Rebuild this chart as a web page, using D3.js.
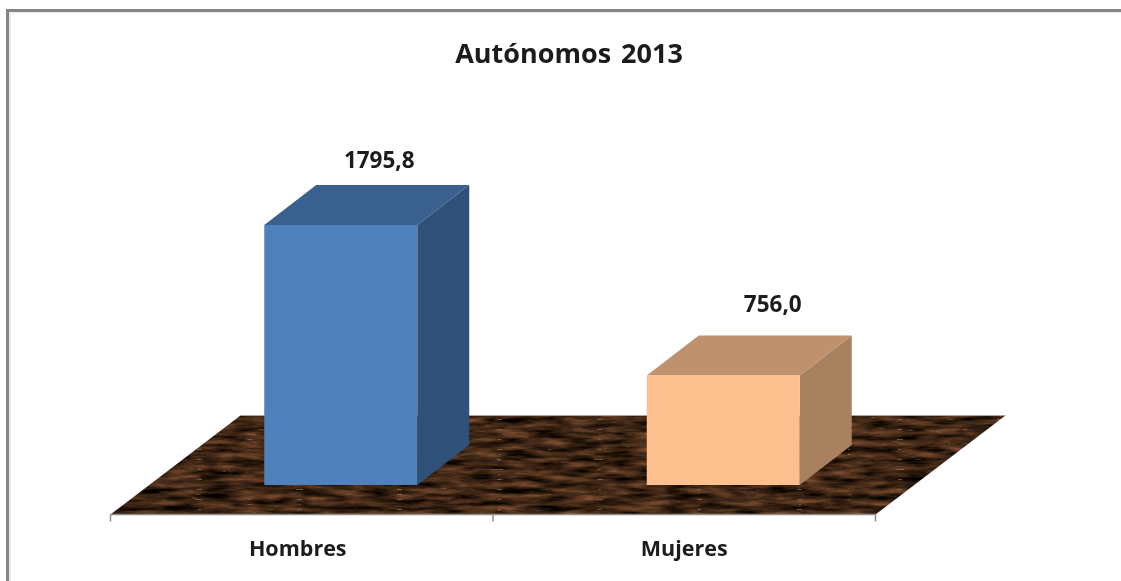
<!DOCTYPE html>
<html><head><meta charset="utf-8">
<script src="https://cdnjs.cloudflare.com/ajax/libs/d3/7.8.5/d3.min.js"></script>
<style>html,body{margin:0;padding:0;background:#fff}svg{display:block}text{font-family:"Open Sans",Lato,sans-serif;font-weight:700;fill:#1a1a1a}</style>
</head><body>
<script>
const chartTitle = "Autónomos 2013";
const categories = ["Hombres", "Mujeres"];
const values = [1795.8, 756.0];
const valueLabels = ["1795,8", "756,0"];
const frontColors = ["#4f81bd", "#fcc08e"];
const topColors = ["#3a6090", "#bf916c"];
const sideColors = ["#2f5078", "#a88260"];

const W = 1121, H = 581;
const svg = d3.select("body").append("svg").attr("width", W).attr("height", H);
const defs = svg.append("defs");

const f = defs.append("filter").attr("id","marble").attr("x",0).attr("y",0).attr("width","100%").attr("height","100%")
  .attr("color-interpolation-filters","sRGB");
f.append("feTurbulence").attr("type","fractalNoise").attr("baseFrequency","0.03 0.17").attr("numOctaves",5).attr("seed",11).attr("result","n");
f.append("feColorMatrix").attr("in","n").attr("type","matrix").attr("result","base")
  .attr("values","0.72 0 0 0 -0.12  0.46 0 0 0 -0.085  0.3 0 0 0 -0.07  0 0 0 0 1");
f.append("feTurbulence").attr("type","turbulence").attr("baseFrequency","0.01 0.1").attr("numOctaves",3).attr("seed",4).attr("result","t");
f.append("feColorMatrix").attr("in","t").attr("type","matrix").attr("result","veins")
  .attr("values","0 0 0 0 0.60  0 0 0 0 0.48  0 0 0 0 0.36  -13 0 0 0 0.62");
f.append("feMerge").call(m=>{m.append("feMergeNode").attr("in","base");m.append("feMergeNode").attr("in","veins");});
f.append("feGaussianBlur").attr("stdDeviation","0.6");

const soft = defs.append("filter").attr("id","soft").attr("x","-5%").attr("y","-20%").attr("width","110%").attr("height","140%");
soft.append("feGaussianBlur").attr("stdDeviation","0.35");

const xBand = d3.scaleBand().domain(categories).range([110.5, 875.5]);
const barW = xBand.bandwidth() * 0.4;
const baseY = 485;
const y = d3.scaleLinear().domain([0, 1795.8]).range([baseY, 225]);
const barDepth = {dx: 52, dy: -40};
const floorDepth = {dx: 130, dy: -99};
const floorY = 514.5;
const barShift = 39;
const catOffsets = [-4, 0];
const labelOffsets = [[38.5, -17], [49.5, -24]];

// frame
svg.append("rect").attr("x",6).attr("y",9).attr("width",W-6).attr("height",3).attr("fill","#858585");
svg.append("rect").attr("x",6).attr("y",9).attr("width",3).attr("height",H-9).attr("fill","#858585");
svg.append("rect").attr("x",9).attr("y",12).attr("width",W-9).attr("height",1).attr("fill","#eeeeee");
svg.append("rect").attr("x",9).attr("y",12).attr("width",2).attr("height",H-12).attr("fill","#e8e8e8");

// floor
const [x0, x1] = xBand.range();
const floorPts = [[x0,floorY],[x1,floorY],[x1+floorDepth.dx,floorY+floorDepth.dy],[x0+floorDepth.dx,floorY+floorDepth.dy]];
const line = d3.line();
defs.append("clipPath").attr("id","floorClip").append("path").attr("d", line(floorPts)+"Z");
svg.append("g").attr("clip-path","url(#floorClip)").append("rect")
  .attr("x",x0).attr("y",floorY+floorDepth.dy).attr("width",x1+floorDepth.dx-x0).attr("height",-floorDepth.dy)
  .attr("filter","url(#marble)");
svg.append("path").attr("d", line([floorPts[3],floorPts[2]])).attr("stroke","#a9a5a2").attr("stroke-width",1.2).attr("fill","none");

// axis
const axisG = svg.append("g");
axisG.append("path").attr("d", line([[x0,floorY],[x1,floorY]])).attr("stroke","#8c8c8c").attr("stroke-width",1.5).attr("fill","none");
const tickXs = [...categories.map(c=>xBand(c)), x1];
axisG.selectAll("line").data(tickXs).join("line")
  .attr("x1",d=>d).attr("x2",d=>d).attr("y1",floorY).attr("y2",floorY+7)
  .attr("stroke","#8c8c8c").attr("stroke-width",1.5);
svg.selectAll("text.cat").data(categories).join("text").attr("class","cat")
  .attr("x",(c,i)=>xBand(c)+xBand.bandwidth()/2+catOffsets[i]).attr("y",556).attr("text-anchor","middle")
  .attr("font-size",21.5).attr("filter","url(#soft)").text(c=>c);

// bars
const bars = svg.selectAll("g.bar").data(categories).join("g").attr("class","bar");
bars.each(function(c,i){
  const g = d3.select(this);
  const l = xBand(c)+(xBand.bandwidth()-barW)/2+barShift, r = l+barW, t = y(values[i]), b = y(0);
  const {dx,dy} = barDepth;
  g.append("path").attr("d", line([[r,t],[r+dx,t+dy],[r+dx,b+dy],[r,b]])+"Z").attr("fill",sideColors[i]);
  g.append("path").attr("d", line([[l,t],[l+dx,t+dy],[r+dx,t+dy],[r,t]])+"Z").attr("fill",topColors[i]);
  g.append("rect").attr("x",l).attr("y",t).attr("width",barW).attr("height",b-t).attr("fill",frontColors[i]);
  g.append("text").attr("x",(l+r)/2+labelOffsets[i][0]).attr("y",t+dy+labelOffsets[i][1]).attr("text-anchor","middle")
    .attr("font-size",22.5).attr("filter","url(#soft)").text(valueLabels[i]);
});

svg.append("text").attr("x",569).attr("y",63).attr("text-anchor","middle").attr("font-size",27).attr("word-spacing",3).attr("filter","url(#soft)").text(chartTitle);
</script>
</body></html>
